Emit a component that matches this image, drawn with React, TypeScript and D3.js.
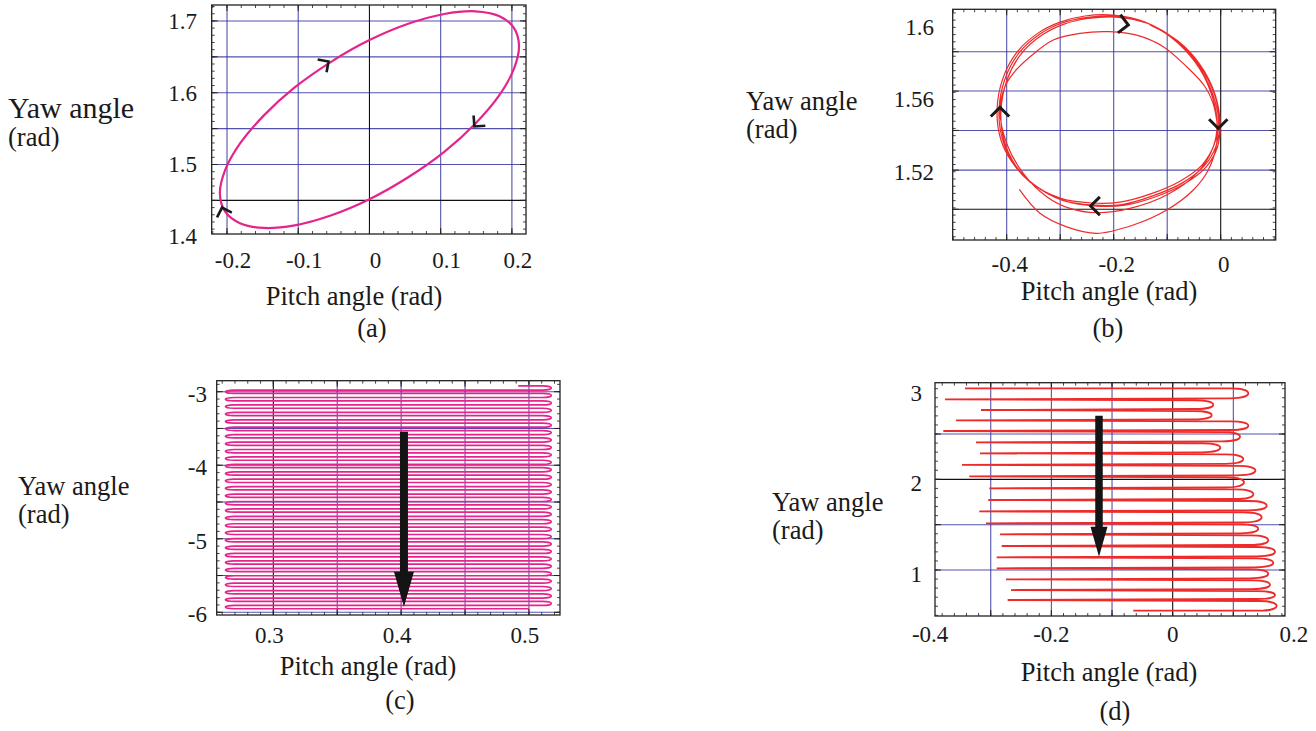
import React from 'react';
import * as d3 from 'd3';

const SERIF = '"Liberation Serif", "Times New Roman", serif';
const GRID = '#3535a0';
const AXIS = '#111111';
const PINK = '#e4248c';
const RED = '#ee2b2b';
const FS_TICK = 23;
const FS_TITLE = 26.5;

// ---------- (a) pitch / yaw, one closed cycle ----------
const pitchA = [0.21, 0.2028, 0.1819, 0.1485, 0.105, 0.0544, 0, -0.0544, -0.105, -0.1485, -0.1819, -0.2028, -0.21, -0.2028, -0.1819, -0.1485, -0.105, -0.0544, 0, 0.0544, 0.105, 0.1485, 0.1819, 0.2028];
const yawA = [1.6652, 1.6904, 1.7068, 1.7134, 1.7097, 1.696, 1.6733, 1.6427, 1.6073, 1.5681, 1.529, 1.4919, 1.4598, 1.4346, 1.4182, 1.4116, 1.4153, 1.429, 1.4517, 1.4823, 1.5177, 1.5569, 1.596, 1.6331];
// [pitch, yaw, heading in degrees]
const arrowsA = [[-0.0575, 1.6435, -35], [0.1473, 1.553, 131], [-0.207, 1.44, -108]];

// ---------- (b) ----------
const pitchB = [
  -0.3764, -0.3378, -0.2879, -0.2318, -0.1634, -0.1009, -0.0512, -0.0232, -0.0075, -0.0107, -0.0293, -0.0636, -0.1073, -0.157, -0.2082, -0.263, -0.3129, -0.3564, -0.3877, -0.4032, -0.4125,
  -0.4, -0.369, -0.3252, -0.2817, -0.2318, -0.1695, -0.1009, -0.0449, -0.0138, -0.0069, -0.02, -0.048, -0.091, -0.1415, -0.2013, -0.2536, -0.3004, -0.3415, -0.3808, -0.4069, -0.4181, -0.4107,
  -0.3901, -0.3564, -0.3004, -0.2406, -0.1882, -0.1322, -0.0761, -0.035, -0.0125, -0.0041, -0.0163, -0.0443, -0.0873, -0.1396, -0.1994, -0.2517, -0.2966, -0.3378, -0.377, -0.4032, -0.4144, -0.4079,
  -0.3864, -0.3508, -0.2966, -0.2368, -0.1845, -0.1284, -0.0723, -0.0312, -0.0088, -0.0022, -0.0125, -0.0406, -0.0836, -0.1359, -0.1957, -0.248, -0.2929, -0.334, -0.3733, -0.3994, -0.4107, -0.4051,
  -0.3826, -0.3452, -0.291, -0.2331, -0.1788, -0.1228, -0.0686, -0.0275, -0.006, -0.0013, -0.0107, -0.0368, -0.0798, -0.1321,
];
const yawB = [
  1.5102, 1.497, 1.4895, 1.4859, 1.4905, 1.4988, 1.5099, 1.521, 1.5357, 1.5542, 1.5671, 1.5782, 1.5893, 1.5957, 1.5976, 1.5967, 1.593, 1.5837, 1.5745, 1.5671, 1.5542,
  1.5357, 1.5191, 1.5062, 1.4997, 1.4973, 1.4997, 1.5071, 1.5191, 1.5339, 1.5486, 1.5653, 1.5808, 1.5941, 1.6029, 1.6068, 1.6063, 1.6029, 1.5968, 1.5863, 1.5719, 1.5542, 1.5376,
  1.5254, 1.5143, 1.5054, 1.5027, 1.5032, 1.5076, 1.5148, 1.5237, 1.5348, 1.5486, 1.5641, 1.5797, 1.5935, 1.6027, 1.6063, 1.6054, 1.6024, 1.5963, 1.5858, 1.5714, 1.5542, 1.5381,
  1.5243, 1.5132, 1.5043, 1.5015, 1.5018, 1.5065, 1.5137, 1.5231, 1.5342, 1.5481, 1.5636, 1.5791, 1.593, 1.6021, 1.6057, 1.6049, 1.6018, 1.5957, 1.5852, 1.5708, 1.5536, 1.5376,
  1.5232, 1.5121, 1.5038, 1.501, 1.5015, 1.506, 1.5132, 1.5226, 1.5337, 1.5475, 1.563, 1.5786, 1.5924, 1.6013,
];
const arrowsB = [[-0.1727, 1.6013, 8], [-0.0045, 1.544, 90], [-0.243, 1.501, 180], [-0.4125, 1.5557, -90]];

// ---------- (c) yaw of each horizontal sweep, turns alternate right / left ----------
const sweepYawC = [
  -2.922, -2.978, -3.023, -3.079, -3.124, -3.18, -3.225, -3.281, -3.326, -3.382,
  -3.427, -3.483, -3.528, -3.584, -3.629, -3.685, -3.73, -3.786, -3.831, -3.887,
  -3.932, -3.988, -4.033, -4.089, -4.134, -4.19, -4.235, -4.291, -4.336, -4.392,
  -4.437, -4.493, -4.538, -4.594, -4.639, -4.695, -4.74, -4.796, -4.841, -4.897,
  -4.942, -4.998, -5.043, -5.099, -5.144, -5.2, -5.245, -5.301, -5.346, -5.402,
  -5.447, -5.503, -5.548, -5.604, -5.649, -5.705, -5.75, -5.806, -5.851, -5.907, -5.952,
];
const turnPitchC = [0.2625, 0.5175]; // left, right turning pitch
const endsPitchC = [0.4916, 0.5]; // start, end
const bigArrowC = [0.4022, -3.544, -5.924]; // pitch, yaw from, yaw to

// ---------- (d) ----------
const levelYawD = [3.004, 2.883, 2.765, 2.651, 2.533, 2.408, 2.287, 2.16, 2.033, 1.901, 1.772, 1.647, 1.515, 1.394, 1.265, 1.14, 1.019, 0.897, 0.779, 0.669, 0.551];
const leftTipD = [-0.3425, -0.3755, -0.3161, -0.3573, -0.3782, -0.3243, -0.3177, -0.3474, -0.3354, -0.3024, -0.304, -0.3189, -0.3078, -0.2847, -0.2819, -0.2902, -0.2902, -0.2749, -0.2666, -0.2721, -0.065];
const rightTipD = [0.1247, 0.0669, 0.0643, 0.1247, 0.111, 0.0785, 0.1164, 0.1365, 0.1176, 0.133, 0.155, 0.1467, 0.1411, 0.1576, 0.1687, 0.1659, 0.1576, 0.1604, 0.1687, 0.1715];
const bigArrowD = [-0.1215, 2.702, 1.147];

type Cfg = {
  name: string;
  box: number[];
  xDomain: number[];
  yDomain: number[];
  xGrid: number[];
  yGrid: number[];
  xAxis: number | null;
  yAxis: number | null;
  xMinor: number;
  yMinor: number;
  xTicks: number[];
  yTicks: number[];
  xTickDx: number;
  xTickBase: number;
  yTickRight: number;
  yTickDy: number;
  yTitle: number[];
  yTitleSize: number;
  xTitle: number[];
  caption: number[];
};

const cfgA: Cfg = {
  name: '(a)', box: [211.7, 5, 526, 234], xDomain: [-0.2215, 0.2198], yDomain: [1.4032, 1.7222],
  xGrid: [-0.2, -0.1, 0.1, 0.2], yGrid: [1.5, 1.55, 1.6, 1.65, 1.7], xAxis: 0, yAxis: 1.45,
  xMinor: 0.02, yMinor: 0.01, xTicks: [-0.2, -0.1, 0, 0.1, 0.2], yTicks: [1.4, 1.5, 1.6, 1.7],
  xTickDx: 6, xTickBase: 268, yTickRight: 197, yTickDy: 0,
  yTitle: [8, 118], yTitleSize: 30, xTitle: [354, 305], caption: [372, 337],
};
const cfgB: Cfg = {
  name: '(b)', box: [952.7, 9.3, 1275.7, 240], xDomain: [-0.5009, 0.1028], yDomain: [1.4822, 1.61],
  xGrid: [-0.4, -0.3, -0.2, -0.1], yGrid: [1.5209, 1.5429, 1.5647, 1.5865], xAxis: 0, yAxis: 1.4992,
  xMinor: 0.02, yMinor: 0.004, xTicks: [-0.4, -0.2, 0], yTicks: [1.52, 1.56, 1.6],
  xTickDx: 3, xTickBase: 272, yTickRight: 934, yTickDy: 0,
  yTitle: [746, 110], yTitleSize: FS_TITLE, xTitle: [1109, 300], caption: [1108, 337],
};
const cfgC: Cfg = {
  name: '(c)', box: [216.7, 380.7, 560, 615], xDomain: [0.2557, 0.5243], yDomain: [-6.0367, -2.8504],
  xGrid: [0.35, 0.4, 0.45, 0.5], yGrid: [-3, -3.5, -4, -4.5, -5, -5.5, -6], xAxis: 0.3, yAxis: null,
  xMinor: 0.01, yMinor: 0.1, xTicks: [0.3, 0.4, 0.5], yTicks: [-3, -4, -5, -6],
  xTickDx: -4, xTickBase: 643, yTickRight: 207, yTickDy: 2,
  yTitle: [18, 495], yTitleSize: FS_TITLE, xTitle: [368, 675], caption: [400, 709],
};
const cfgD: Cfg = {
  name: '(d)', box: [935, 382.7, 1285, 616], xDomain: [-0.3919, 0.1852], yDomain: [0.4927, 3.066],
  xGrid: [-0.3, -0.2, -0.1, 0.1], yGrid: [1, 1.5, 2.5], xAxis: 0, yAxis: 2,
  xMinor: 0.02, yMinor: 0.1, xTicks: [-0.4, -0.2, 0, 0.2], yTicks: [1, 2, 3],
  xTickDx: 0, xTickBase: 642, yTickRight: 922, yTickDy: 4,
  yTitle: [772, 511], yTitleSize: FS_TITLE, xTitle: [1109, 681], caption: [1115, 720],
};

function scales(c: Cfg) {
  const [l, t, r, b] = c.box;
  const sx = d3.scaleLinear().domain(c.xDomain).range([l, r]);
  const sy = d3.scaleLinear().domain(c.yDomain).range([b, t]);
  return { sx, sy };
}

function minorValues(dom: number[], step: number) {
  return d3.range(Math.ceil(dom[0] / step - 1e-6) * step, dom[1], step);
}

function Frame({ c, sx, sy }: { c: Cfg; sx: any; sy: any }) {
  const [l, t, r, b] = c.box;
  const majorX = [...c.xGrid, ...(c.xAxis !== null ? [c.xAxis] : [])];
  const majorY = [...c.yGrid, ...(c.yAxis !== null ? [c.yAxis] : [])];
  const mx = minorValues(c.xDomain, c.xMinor);
  const my = minorValues(c.yDomain, c.yMinor);
  return (
    <g>
      {c.xGrid.map((v) => (
        <line key={'gx' + v} x1={sx(v)} x2={sx(v)} y1={t} y2={b} stroke={GRID} strokeWidth={1.1} opacity={0.85} />
      ))}
      {c.yGrid.map((v) => (
        <line key={'gy' + v} x1={l} x2={r} y1={sy(v)} y2={sy(v)} stroke={GRID} strokeWidth={1.1} opacity={0.85} />
      ))}
      {c.xAxis !== null && <line x1={sx(c.xAxis)} x2={sx(c.xAxis)} y1={t} y2={b} stroke={AXIS} strokeWidth={1.1} />}
      {c.yAxis !== null && <line x1={l} x2={r} y1={sy(c.yAxis)} y2={sy(c.yAxis)} stroke={AXIS} strokeWidth={1.1} />}
      {mx.map((v, i) => (
        <g key={'mx' + i}>
          <line x1={sx(v)} x2={sx(v)} y1={b} y2={b - 3} stroke="#333" strokeWidth={0.9} />
          <line x1={sx(v)} x2={sx(v)} y1={t} y2={t + 3} stroke="#333" strokeWidth={0.9} />
        </g>
      ))}
      {my.map((v, i) => (
        <g key={'my' + i}>
          <line x1={l} x2={l + 3} y1={sy(v)} y2={sy(v)} stroke="#333" strokeWidth={0.9} />
          <line x1={r} x2={r - 3} y1={sy(v)} y2={sy(v)} stroke="#333" strokeWidth={0.9} />
        </g>
      ))}
      {majorX.map((v) => (
        <g key={'Mx' + v}>
          <line x1={sx(v)} x2={sx(v)} y1={b} y2={b - 6} stroke="#222" strokeWidth={1} />
          <line x1={sx(v)} x2={sx(v)} y1={t} y2={t + 6} stroke="#222" strokeWidth={1} />
        </g>
      ))}
      {majorY.map((v) => (
        <g key={'My' + v}>
          <line x1={l} x2={l + 6} y1={sy(v)} y2={sy(v)} stroke="#222" strokeWidth={1} />
          <line x1={r} x2={r - 6} y1={sy(v)} y2={sy(v)} stroke="#222" strokeWidth={1} />
        </g>
      ))}
      <rect x={l} y={t} width={r - l} height={b - t} fill="none" stroke="#222" strokeWidth={1.3} />
    </g>
  );
}

function Labels({ c, sx, sy }: { c: Cfg; sx: any; sy: any }) {
  return (
    <g fontFamily={SERIF} fill="#1a1a1a">
      {c.xTicks.map((v) => (
        <text key={'tx' + v} x={sx(v) + c.xTickDx} y={c.xTickBase} fontSize={FS_TICK} textAnchor="middle">
          {String(v)}
        </text>
      ))}
      {c.yTicks.map((v) => (
        <text key={'ty' + v} x={c.yTickRight} y={sy(v) + c.yTickDy + FS_TICK * 0.34} fontSize={FS_TICK} textAnchor="end">
          {String(v)}
        </text>
      ))}
      <text x={c.yTitle[0]} y={c.yTitle[1]} fontSize={c.yTitleSize}>Yaw angle</text>
      <text x={c.yTitle[0]} y={c.yTitle[1] + 28} fontSize={FS_TITLE}>(rad)</text>
      <text x={c.xTitle[0]} y={c.xTitle[1]} fontSize={FS_TITLE} textAnchor="middle">Pitch angle (rad)</text>
      <text x={c.caption[0]} y={c.caption[1]} fontSize={FS_TITLE} textAnchor="middle">{c.name}</text>
    </g>
  );
}

function Chevrons({ list, sx, sy, len, width }: { list: number[][]; sx: any; sy: any; len: number; width: number }) {
  return (
    <g>
      {list.map(([p, y, h], i) => {
        const x0 = sx(p);
        const y0 = sy(y);
        const back = ((h + 180) * Math.PI) / 180;
        const a1 = back + Math.PI / 4;
        const a2 = back - Math.PI / 4;
        const d = `M${x0 + len * Math.cos(a1)},${y0 + len * Math.sin(a1)}L${x0},${y0}L${x0 + len * Math.cos(a2)},${y0 + len * Math.sin(a2)}`;
        return <path key={i} d={d} fill="none" stroke="#1a1a1a" strokeWidth={width} strokeLinejoin="miter" />;
      })}
    </g>
  );
}

function BigArrow({ spec, sx, sy, shaft, headW, headL }: { spec: number[]; sx: any; sy: any; shaft: number; headW: number; headL: number }) {
  const x = sx(spec[0]);
  const y0 = sy(spec[1]);
  const y1 = sy(spec[2]);
  const pts = [
    [x - shaft / 2, y0], [x + shaft / 2, y0], [x + shaft / 2, y1 - headL], [x + headW / 2, y1 - headL],
    [x, y1], [x - headW / 2, y1 - headL], [x - shaft / 2, y1 - headL],
  ];
  return <polygon points={pts.map((q) => q.join(',')).join(' ')} fill="#141414" />;
}

function PanelA() {
  const { sx, sy } = scales(cfgA);
  const line = d3.line<number>().x((i) => sx(pitchA[i])).y((i) => sy(yawA[i])).curve(d3.curveCatmullRomClosed.alpha(0.5));
  return (
    <g>
      <Frame c={cfgA} sx={sx} sy={sy} />
      <path d={line(d3.range(pitchA.length)) || ''} fill="none" stroke={PINK} strokeWidth={2.2} />
      <Chevrons list={arrowsA} sx={sx} sy={sy} len={11} width={2.6} />
      <Labels c={cfgA} sx={sx} sy={sy} />
    </g>
  );
}

function PanelB() {
  const { sx, sy } = scales(cfgB);
  const n = Math.min(pitchB.length, yawB.length);
  const line = d3.line<number>().x((i) => sx(pitchB[i])).y((i) => sy(yawB[i])).curve(d3.curveCatmullRom.alpha(0.5));
  return (
    <g>
      <Frame c={cfgB} sx={sx} sy={sy} />
      <path d={line(d3.range(n)) || ''} fill="none" stroke={RED} strokeWidth={1.2} />
      <Chevrons list={arrowsB} sx={sx} sy={sy} len={13} width={3} />
      <Labels c={cfgB} sx={sx} sy={sy} />
    </g>
  );
}

function PanelC() {
  const { sx, sy } = scales(cfgC);
  const p = d3.path();
  const w = 9;
  const n = sweepYawC.length;
  p.moveTo(sx(endsPitchC[0]), sy(sweepYawC[0]));
  for (let j = 0; j < n - 1; j++) {
    const dir = j % 2 === 0 ? 1 : -1;
    const tip = sx(dir > 0 ? turnPitchC[1] : turnPitchC[0]);
    const a = tip - dir * w;
    const y1 = sy(sweepYawC[j]);
    const y2 = sy(sweepYawC[j + 1]);
    p.lineTo(a, y1);
    p.bezierCurveTo(tip + (dir * w) / 3, y1, tip + (dir * w) / 3, y2, a, y2);
  }
  p.lineTo(sx(endsPitchC[1]), sy(sweepYawC[n - 1]));
  return (
    <g>
      <Frame c={cfgC} sx={sx} sy={sy} />
      <path d={p.toString()} fill="none" stroke={PINK} strokeWidth={1.7} />
      <BigArrow spec={bigArrowC} sx={sx} sy={sy} shaft={8} headW={20} headL={35} />
      <Labels c={cfgC} sx={sx} sy={sy} />
    </g>
  );
}

function PanelD() {
  const { sx, sy } = scales(cfgD);
  const p = d3.path();
  const w = 18;
  const off = 1;
  const n = levelYawD.length;
  p.moveTo(sx(leftTipD[0]), sy(levelYawD[0]));
  for (let k = 0; k < n - 1; k++) {
    const tip = sx(rightTipD[k]);
    const a = tip - w;
    const y1 = sy(levelYawD[k]) + (k === 0 ? 0 : off);
    const last = k + 1 === n - 1;
    const y2 = sy(levelYawD[k + 1]) - (last ? 0 : off);
    p.lineTo(a, y1);
    p.bezierCurveTo(tip + w / 3, y1, tip + w / 3, y2, a, y2);
    p.lineTo(sx(leftTipD[k + 1]), last ? y2 : sy(levelYawD[k + 1]));
  }
  return (
    <g>
      <Frame c={cfgD} sx={sx} sy={sy} />
      <path d={p.toString()} fill="none" stroke={RED} strokeWidth={1.8} />
      <BigArrow spec={bigArrowD} sx={sx} sy={sy} shaft={7.5} headW={17} headL={30} />
      <Labels c={cfgD} sx={sx} sy={sy} />
    </g>
  );
}

export default function App() {
  return (
    <svg width={1316} height={731} style={{ position: 'absolute', left: 0, top: 0, background: '#fff' }}>
      <rect x={0} y={0} width={1316} height={731} fill="#fff" />
      <PanelA />
      <PanelB />
      <PanelC />
      <PanelD />
    </svg>
  );
}
